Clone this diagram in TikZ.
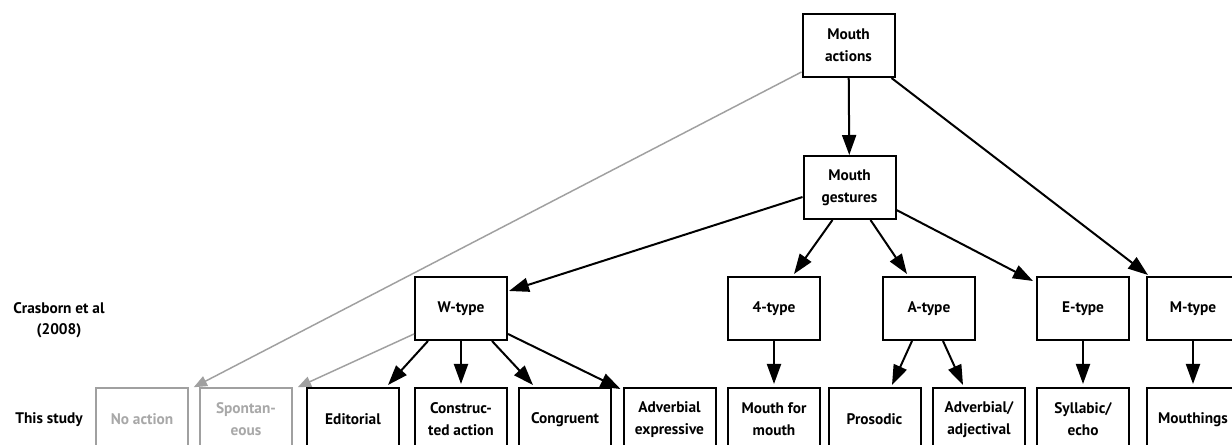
\documentclass[tikz,border=0pt]{standalone}
\usepackage{fontspec}
\setmainfont{PT Sans}
\usetikzlibrary{arrows.meta,calc}
\definecolor{lgray}{HTML}{A0A0A0}
\definecolor{tgray}{HTML}{A8A8A8}
\tikzset{
  box/.style={draw=black, line width=1.5pt, fill=white, minimum width=69pt, minimum height=47.25pt,
     inner sep=1pt, align=center, font=\bfseries\fontsize{11.5}{16.5}\selectfont},
  gbox/.style={box, draw=lgray, line width=1.1pt, text=tgray},
  lab/.style={align=center, font=\bfseries\fontsize{11.5}{16}\selectfont},
  arr/.style={line width=1.5pt, -{Triangle[length=15pt,width=10.5pt]}},
  garr/.style={draw=lgray, line width=1.1pt, -{Triangle[length=10pt,width=8pt]}}
}
\begin{document}
\begin{tikzpicture}[x=0.75pt,y=-0.75pt]
\clip (0,0) rectangle (1232,445);
\fill[white] (0,0) rectangle (1232,445);
% top
\node[box] (ma) at (848.5,45.5) {Mouth\\actions};
\node[box] (mg) at (849.5,187.5) {Mouth\\gestures};
% middle
\node[box] (w) at (461,308.5) {W-type};
\node[box] (f) at (774,308.5) {4-type};
\node[box] (a) at (929,308.5) {A-type};
\node[box] (e) at (1083,308.5) {E-type};
\node[box] (m) at (1193,308.5) {M-type};
% bottom
\node[gbox] (na) at (142,419.5) {No action};
\node[gbox] (sp) at (246,419.5) {Spontan-\\eous};
\node[box] (ed) at (353,419.5) {Editorial};
\node[box] (ca) at (461,419.5) {Construc-\\ted action};
\node[box] (co) at (565,419.5) {Congruent};
\node[box] (ae) at (669.5,419.5) {Adverbial\\expressive};
\node[box] (mm) at (774,419.5) {Mouth for\\mouth};
\node[box] (pr) at (874.5,419.5) {Prosodic};
\node[box] (aa) at (979,419.5) {Adverbial/\\adjectival};
\node[box] (se) at (1083,419.5) {Syllabic/\\echo};
\node[box] (mo) at (1193,419.5) {Mouthings};
% labels
\node[lab] (cr) at (59,320) {Crasborn et al\\(2008)};
\node[lab] (ts) at (49,420) {This study};
% arrows
\draw[garr] ($(ma.south west)+(0,-6)$) -- ($(na.north east)+(5,0)$);
\draw[garr] ($(w.south west)+(0,-7)$) -- ($(sp.north east)+(5,0)$);
\draw[arr] (ma) -- (mg);
\draw[arr] ($(mg.south west)+(0,-23)$) -- ($(w.north east)+(1,15)$);
\draw[arr] ($(mg.south)+(-17,0)$) -- ($(f.north)+(20,-2)$);
\draw[arr] ($(mg.south)+(21,0)$) -- ($(a.north)+(-22,-2)$);
\draw[arr] ($(mg.south east)+(0,-10)$) -- ($(e.north west)+(-3,5)$);
\draw[arr] ($(ma.south east)+(-4,0)$) -- ($(m.north west)+(2,-1)$);
\draw[arr] ($(w.south)+(-33,0)$) -- ($(ed.north east)+(-12,-2)$);
\draw[arr] (w) -- ($(ca.north)+(0,-3)$);
\draw[arr] ($(w.south)+(31,0)$) -- ($(co.north)+(-32,-2)$);
\draw[arr] ($(w.south east)+(0,-7)$) -- ($(ae.north west)+(-2,2)$);
\draw[arr] (f) -- ($(mm.north)+(0,-3)$);
\draw[arr] ($(a.south)+(-17,0)$) -- ($(pr.north)+(17.5,-2)$);
\draw[arr] ($(a.south)+(14,0)$) -- ($(aa.north)+(-16,-2)$);
\draw[arr] (e) -- ($(se.north)+(0,-3)$);
\draw[arr] (m) -- ($(mo.north)+(0,-3)$);
\end{tikzpicture}
\end{document}
